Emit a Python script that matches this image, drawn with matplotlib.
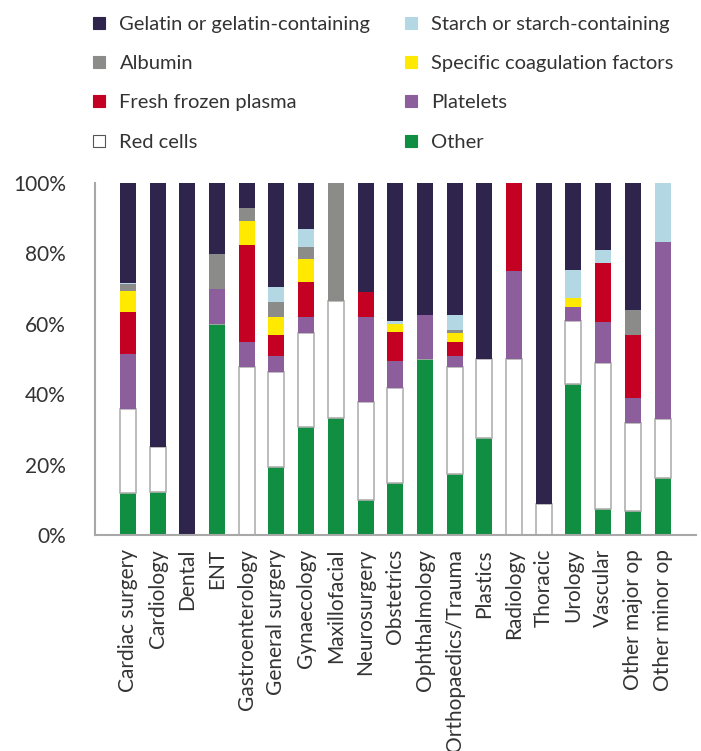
import numpy as np
import matplotlib
matplotlib.use('Agg')
import matplotlib.pyplot as plt
from matplotlib.lines import Line2D

plt.rcParams['font.family'] = ['Lato', 'DejaVu Sans']

categories = ['Cardiac surgery', 'Cardiology', 'Dental', 'ENT', 'Gastroenterology',
              'General surgery', 'Gynaecology', 'Maxillofacial', 'Neurosurgery',
              'Obstetrics', 'Ophthalmology', 'Orthopaedics/Trauma', 'Plastics',
              'Radiology', 'Thoracic', 'Urology', 'Vascular', 'Other major op',
              'Other minor op']

# shares in %, stacked bottom to top
other = [11.8, 12.3, 0, 60, 0, 19.4, 30.8, 33.3, 10, 14.9, 50, 17.3, 27.5, 0, 0, 42.9, 7.4, 6.9, 16.3]
red_cells = [24.1, 12.6, 0, 0, 47.8, 26.9, 26.6, 33.3, 27.9, 27.0, 0, 30.5, 22.5, 50, 8.8, 18.0, 41.5, 24.9, 16.6]
platelets = [15.5, 0, 0, 10, 7.0, 4.6, 4.5, 0, 24.1, 7.5, 12.5, 3.1, 0, 25, 0, 3.9, 11.6, 7.1, 50.3]
ffp = [12.0, 0, 0, 0, 27.6, 5.9, 10.0, 0, 6.9, 8.3, 0, 3.9, 0, 25, 0, 0, 16.8, 17.9, 0]
coag = [5.9, 0, 0, 0, 6.8, 5.1, 6.5, 0, 0, 2.2, 0, 2.6, 0, 0, 0, 2.5, 0, 0, 0]
albumin = [1.9, 0, 0, 9.8, 3.7, 4.3, 3.4, 33.4, 0, 0, 0, 0.8, 0, 0, 0, 0, 0, 7.1, 0]
starch = [0.3, 0, 0, 0, 0, 4.3, 5.1, 0, 0, 0.9, 0, 4.3, 0, 0, 0, 8.0, 3.7, 0, 16.8]
gelatin = [28.5, 75.1, 100, 20.2, 7.1, 29.5, 13.1, 0, 31.2, 39.2, 37.5, 37.5, 50, 0, 91.2, 24.7, 19.0, 36.1, 0]

series = [
    ('Other', other, '#108e41'),
    ('Red cells', red_cells, '#ffffff'),
    ('Platelets', platelets, '#8c5e9b'),
    ('Fresh frozen plasma', ffp, '#c40023'),
    ('Specific coagulation factors', coag, '#ffe900'),
    ('Albumin', albumin, '#8b8c89'),
    ('Starch or starch-containing', starch, '#b3d8e3'),
    ('Gelatin or gelatin-containing', gelatin, '#2f244c'),
]
colors = {name: c for name, _, c in series}
text_color = '#333333'

fig = plt.figure(figsize=(7.01, 7.51), dpi=100)
ax = fig.add_axes([0.1355, 0.2876, 0.858, 0.4687])

x = np.arange(len(categories))
bottom = np.zeros(len(categories))
for name, vals, color in series:
    vals = np.array(vals, dtype=float)
    if name == 'Red cells':
        ax.bar(x, vals, 0.54, bottom=bottom, color=color, edgecolor='#b0b0b0', linewidth=1.2)
    else:
        ax.bar(x, vals, 0.54, bottom=bottom, color=color, linewidth=0)
    bottom += vals

ax.set_xlim(-1.11, 19.14)
ax.set_ylim(0, 100)
ax.set_yticks(np.arange(0, 101, 20))
ax.set_yticklabels([f'{v}%' for v in range(0, 101, 20)])
ax.set_xticks(x)
ax.set_xticklabels(categories, rotation=90, va='top', ha='center')
ax.tick_params(axis='y', length=0, pad=21, labelsize=15, labelcolor=text_color)
ax.tick_params(axis='x', length=0, pad=10, labelsize=15, labelcolor=text_color)
for s in ['top', 'right']:
    ax.spines[s].set_visible(False)
for s in ['left', 'bottom']:
    ax.spines[s].set_color('#a8a8a8')
    ax.spines[s].set_linewidth(1.5)

legend_order = ['Gelatin or gelatin-containing', 'Albumin', 'Fresh frozen plasma', 'Red cells',
                'Starch or starch-containing', 'Specific coagulation factors', 'Platelets', 'Other']
handles = []
for name in legend_order:
    edge = '#555555' if name == 'Red cells' else colors[name]
    handles.append(Line2D([], [], linestyle='none', marker='s', markersize=8,
                          markerfacecolor=colors[name], markeredgecolor=edge, markeredgewidth=0.8))
leg = fig.legend(handles, legend_order, ncol=2, loc='upper left', bbox_to_anchor=(0.113, 0.995),
                 frameon=False, fontsize=14.5, handlelength=0.8, handletextpad=0.6,
                 columnspacing=1.6, labelspacing=1.1, borderaxespad=0.2)
for t in leg.get_texts():
    t.set_color(text_color)

fig.savefig('out.png', dpi=100)
